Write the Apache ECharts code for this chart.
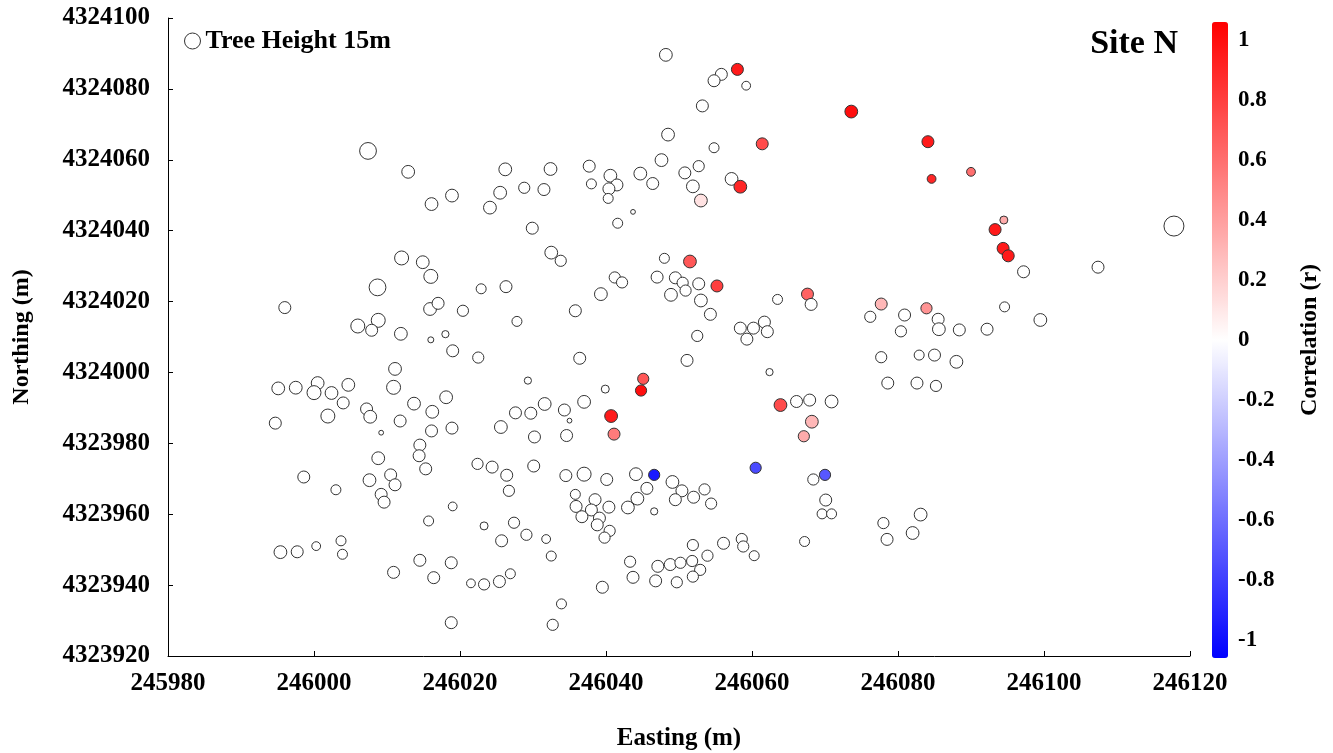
<!DOCTYPE html>
<html>
<head>
<meta charset="utf-8">
<script src="https://cdn.jsdelivr.net/npm/echarts@6/dist/echarts.min.js"></script>
<style>
  html, body { margin: 0; padding: 0; background: #fff; }
  #chart { width: 1333px; height: 753px; }
</style>
</head>
<body>
<div id="chart"></div>
<script>
// tree positions (m), tree heights (m) and correlation r
const easting = [
  246007.4,246012.9,246016.1,246018.9,246024.1,246025.5,246026.2,246048.2,246055.8,246054.8,
  246058.0,246059.2,246053.2,246048.5,246054.8,246047.6,246052.7,246050.8,246051.9,246053.0,
  246057.2,246058.4,246044.7,246046.4,246040.6,246041.5,246040.4,246040.3,246037.7,246038.0,
  246032.4,246031.5,246028.8,246029.9,246041.6,246043.7,246073.6,246061.4,246084.1,246084.6,
  246090.0,246094.5,246093.3,246094.4,246095.1,246117.8,246097.2,246107.4,246094.6,246099.5,
  246092.2,246088.4,246088.0,246012.0,246014.9,246016.0,246008.7,246022.9,246026.3,245996.0,
  246015.9,246017.0,246020.4,246006.0,246008.8,246007.9,246011.9,246016.0,246018.0,246019.0,
  246022.5,246011.1,246010.9,245995.1,245997.5,246000.5,246000.0,246002.4,246004.7,246004.0,
  246001.9,245994.7,246007.2,246007.7,246009.2,246011.8,246013.7,246016.2,246018.1,246016.1,
  246018.9,246025.6,246014.5,246032.5,246033.8,246027.8,246035.8,246039.3,246041.2,246042.2,
  246048.0,246051.5,246047.0,246049.5,246050.5,246050.9,246052.7,246048.9,246053.0,246055.2,
  246054.3,246052.5,246058.4,246036.4,246051.1,246029.3,246039.9,246045.1,246044.8,246040.7,
  246041.1,246037.0,246034.3,246031.6,246029.7,246027.6,246035.0,246030.2,246034.6,246063.5,
  246067.6,246068.1,246060.2,246061.7,246062.1,246059.3,246062.4,246063.9,246066.1,246067.9,
  246070.9,246068.2,246067.1,246077.7,246076.2,246080.9,246083.9,246085.5,246085.6,246080.4,
  246077.7,246082.9,246085.0,246078.6,246082.6,246085.2,246014.4,246015.3,246008.8,245998.6,
  246003.0,246007.6,246010.5,246011.1,246009.2,246009.6,246019.0,246015.7,246023.3,246022.4,
  246024.4,246026.4,246026.7,246025.7,245995.4,245997.7,246000.3,246003.7,246003.9,246010.9,
  246014.5,246016.4,246018.8,246021.5,246023.3,246025.4,246018.8,246030.1,246034.5,246037.0,
  246040.1,246044.1,246046.6,246045.6,246044.3,246043.0,246046.6,246049.1,246050.4,246049.5,
  246052.0,246053.5,246054.4,246035.8,246038.5,246035.9,246038.0,246040.4,246036.7,246039.1,
  246038.8,246040.5,246039.8,246027.4,246029.1,246031.8,246032.5,246026.9,246039.5,246033.9,
  246032.7,246043.3,246043.7,246047.1,246048.8,246050.2,246051.8,246051.9,246053.9,246056.1,
  246052.9,246051.9,246046.8,246049.7,246060.5,246070.0,246068.4,246070.1,246069.6,246070.9,
  246058.6,246058.8,246060.3,246067.2,246078.0,246083.1,246078.5,246082.0
];
const northing = [
  4324062.5,4324056.6,4324047.5,4324049.9,4324046.5,4324050.7,4324057.3,4324089.6,4324084.1,4324082.3,
  4324085.5,4324080.9,4324075.2,4324067.1,4324063.4,4324059.9,4324058.2,4324056.3,4324052.5,4324048.5,
  4324054.6,4324052.4,4324056.1,4324053.3,4324055.5,4324052.9,4324051.8,4324049.1,4324058.2,4324053.2,
  4324057.4,4324051.6,4324052.1,4324040.7,4324042.1,4324045.3,4324073.6,4324064.5,4324065.1,4324054.6,
  4324056.6,4324043.0,4324040.3,4324035.0,4324032.9,4324041.3,4324028.4,4324029.7,4324018.5,4324014.8,
  4324012.2,4324012.0,4324003.0,4324032.3,4324031.1,4324027.1,4324024.0,4324023.6,4324024.2,4324018.3,
  4324017.9,4324019.5,4324017.4,4324013.1,4324014.7,4324011.9,4324010.9,4324009.2,4324010.8,4324006.1,
  4324004.2,4324001.0,4323995.8,4323995.5,4323995.7,4323997.0,4323994.3,4323994.2,4323996.5,4323991.4,
  4323987.7,4323985.7,4323989.7,4323987.5,4323983.0,4323986.3,4323991.2,4323988.9,4323993.0,4323983.5,
  4323984.3,4323984.6,4323979.5,4324033.8,4324031.5,4324014.4,4324017.4,4324022.1,4324026.8,4324025.4,
  4324032.2,4324031.3,4324026.9,4324026.7,4324025.3,4324023.1,4324025.0,4324021.9,4324020.3,4324024.4,
  4324016.4,4324010.3,4324012.5,4324004.0,4324003.4,4323997.7,4323995.3,4323998.2,4323994.9,4323987.7,
  4323982.6,4323991.7,4323989.4,4323991.1,4323988.5,4323988.6,4323986.4,4323981.8,4323982.2,4324020.6,
  4324022.1,4324019.2,4324012.5,4324014.2,4324011.5,4324009.4,4324000.1,4323990.8,4323991.8,4323992.2,
  4323991.8,4323986.1,4323982.0,4324019.3,4324015.7,4324016.2,4324018.1,4324015.0,4324012.2,4324011.6,
  4324004.3,4324004.9,4324004.9,4323997.0,4323997.0,4323996.2,4323976.5,4323972.8,4323975.8,4323970.5,
  4323966.9,4323969.6,4323971.1,4323968.3,4323965.6,4323963.4,4323962.2,4323958.1,4323956.7,4323974.2,
  4323973.3,4323971.0,4323966.6,4323952.5,4323949.3,4323949.4,4323951.0,4323952.5,4323948.7,4323943.6,
  4323947.0,4323942.1,4323946.3,4323940.5,4323940.2,4323941.0,4323929.4,4323973.6,4323970.9,4323971.3,
  4323969.8,4323971.3,4323971.1,4323967.3,4323964.4,4323961.9,4323960.8,4323969.1,4323966.6,4323964.1,
  4323964.8,4323967.0,4323963.0,4323965.6,4323964.1,4323962.2,4323961.2,4323962.0,4323959.3,4323958.9,
  4323957.0,4323955.3,4323953.4,4323957.6,4323954.2,4323953.0,4323948.2,4323943.2,4323939.4,4323934.7,
  4323928.8,4323946.6,4323942.2,4323945.3,4323945.8,4323946.3,4323946.8,4323951.3,4323948.3,4323951.8,
  4323944.3,4323942.4,4323941.2,4323940.8,4323973.1,4323971.1,4323969.8,4323964.0,4323960.1,4323960.1,
  4323953.0,4323950.9,4323948.3,4323952.3,4323957.5,4323959.9,4323952.9,4323954.7
];
const height = [
  21,16,16,16,16,16,16,16,15,15,
  15,11,15,16,12.5,16,14,15,16,16,
  16,16,16,15,16,15,15,12.5,15,12.5,
  16,15,14,15,12.5,6,16,15,15,11,
  11,10,15,15,15,25,15,15,12.5,16,
  15,15,16,17.5,16,17.5,21,12.5,15,15,
  16,15,14,17.5,17.5,15,16,7.5,9,15,
  14,16,17.5,16,16,16,17.5,16,16,15,
  17.5,15,15,16,6,15,16,16,16,15,
  15,16,15,16,14,12.5,15,16,14,14,
  12.5,16,15,15,14,14,15,16,16,15,
  15,14,15,15,15,9,10,14,14,16,
  15,16,15,16,15,15,6,15,15,12.5,
  15,15,15,15,15,15,9,16,15,15,
  16,16,14,15,14,15,14,15,16,14,
  14,12.5,15,15,15,14,15,15,16,15,
  12.5,16,15,15,15,15,11,12.5,10,14,
  15,15,14,15,16,15,11,12.5,12.5,15,
  15,15,15,11,14,15,15,15,15,17.5,
  15,16,14,15,16,16,9,16,15,15,
  15,14,14,12.5,15,15,15,15,15,15,
  15,14,14,14,14,11,12.5,12.5,15,12.5,
  14,14,15,15,15,14,14,14,14,15,
  14,14,15,14,14,14,14,15,12.5,12.5,
  14,14,12.5,12.5,14,16,15,16
];
const corr = [
  0,0,0,0,0,0,0,0,0,0,
  0.95,0,0,0,0,0,0,0,0,0.12,
  0,0.9,0,0,0,0,0,0,0,0,
  0,0,0,0,0,0,1.0,0.75,0.95,0.9,
  0.6,0.35,0.95,0.95,0.95,0,0,0,0,0,
  0,0,0,0,0,0,0,0,0,0,
  0,0,0,0,0,0,0,0,0,0,
  0,0,0,0,0,0,0,0,0,0,
  0,0,0,0,0,0,0,0,0,0,
  0,0,0,0,0,0,0,0,0,0,
  0,0.7,0,0,0,0,0,0,0,0.8,
  0,0,0,0,0,0,0,0.7,1.0,0.95,
  0.55,0,0,0,0,0,0,0,0,0,
  0.65,0,0,0,0,0,0,0.75,0,0,
  0,0.3,0.35,0.3,0,0,0.45,0,0,0,
  0,0,0,0,0,0,0,0,0,0,
  0,0,0,0,0,0,0,0,0,0,
  0,0,0,0,0,0,0,0,0,0,
  0,0,0,0,0,0,0,0,0,0,
  0,0,-0.95,0,0,0,0,0,0,0,
  0,0,0,0,0,0,0,0,0,0,
  0,0,0,0,0,0,0,0,0,0,
  0,0,0,0,0,0,0,0,0,0,
  0,0,0,0,-0.75,-0.7,0,0,0,0,
  0,0,0,0,0,0,0,0
];
const xTicks = [245980, 246120, 20];
const yTicks = [4323920, 4324100, 20];
const corrTicks = [-1, -0.8, -0.6, -0.4, -0.2, 0, 0.2, 0.4, 0.6, 0.8, 1];

const font = 'Liberation Serif';
const points = easting.map((e, i) => [e, northing[i], height[i], corr[i]]);

const chart = echarts.init(document.getElementById('chart'));
chart.setOption({
  backgroundColor: '#fff',
  animation: false,
  title: {
    text: 'Site N',
    right: 155, top: 27, padding: 0,
    textStyle: { fontFamily: font, fontWeight: 'bold', fontSize: 34, color: '#000' }
  },
  legend: {
    data: ['Tree Height 15m'],
    left: 184, top: 28, padding: 0,
    icon: 'circle', itemWidth: 16, itemHeight: 16,
    itemStyle: { color: '#fff', borderColor: '#333', borderWidth: 1 },
    textStyle: { fontFamily: font, fontWeight: 'bold', fontSize: 26, color: '#000' }
  },
  grid: [
    { left: 168, top: 18, width: 1022, height: 638, outerBoundsMode: 'none' },
    { left: 1212, top: 22, width: 16, height: 636, outerBoundsMode: 'none' }
  ],
  xAxis: [{
    type: 'value', gridIndex: 0,
    min: xTicks[0], max: xTicks[1], interval: xTicks[2],
    name: 'Easting (m)', nameLocation: 'middle', nameGap: 70,
    nameTextStyle: { fontFamily: font, fontWeight: 'bold', fontSize: 25, color: '#000' },
    axisLine: { lineStyle: { color: '#000' } },
    axisTick: { inside: true, length: 5, lineStyle: { color: '#000' } },
    axisLabel: { margin: 15, formatter: v => String(v), fontFamily: font, fontWeight: 'bold', fontSize: 25, color: '#000' },
    splitLine: { show: false }
  }, {
    type: 'value', gridIndex: 1, show: false, min: 0, max: 1
  }],
  yAxis: [{
    type: 'value', gridIndex: 0,
    min: yTicks[0], max: yTicks[1], interval: yTicks[2],
    name: 'Northing (m)', nameLocation: 'middle', nameGap: 134, nameRotate: 90,
    nameTextStyle: { fontFamily: font, fontWeight: 'bold', fontSize: 24, color: '#000' },
    axisLine: { lineStyle: { color: '#000' } },
    axisTick: { inside: true, length: 5, lineStyle: { color: '#000' } },
    axisLabel: { margin: 18, formatter: v => String(v), fontFamily: font, fontWeight: 'bold', fontSize: 25, color: '#000' },
    splitLine: { show: false }
  }, {
    type: 'value', gridIndex: 1, position: 'right',
    min: -1.06, max: 1.06,
    name: 'Correlation (r)', nameLocation: 'middle', nameGap: 70, nameRotate: 90,
    nameTextStyle: { fontFamily: font, fontWeight: 'bold', fontSize: 24, color: '#000' },
    axisLine: { show: false },
    axisTick: { show: false },
    splitLine: { show: false },
    axisLabel: {
      customValues: corrTicks, margin: 10,
      formatter: v => String(Math.round(v * 10) / 10),
      fontFamily: font, fontWeight: 'bold', fontSize: 23, color: '#000'
    }
  }],
  visualMap: {
    type: 'continuous',
    seriesIndex: 0, dimension: 3,
    min: -1.06, max: 1.06,
    left: 1212, top: 22, padding: 0,
    itemWidth: 16, itemHeight: 636,
    calculable: false, text: ['', ''], textGap: 0,
    inRange: { color: ['#0000ff', '#ffffff', '#ff0000'] }
  },
  series: [{
    name: 'Tree Height 15m',
    type: 'scatter',
    xAxisIndex: 0, yAxisIndex: 0,
    data: points,
    symbolSize: v => v[2] * 0.8,
    itemStyle: { borderColor: '#333', borderWidth: 1, opacity: 1 },
    emphasis: { disabled: true }
  }]
});
</script>
</body>
</html>
